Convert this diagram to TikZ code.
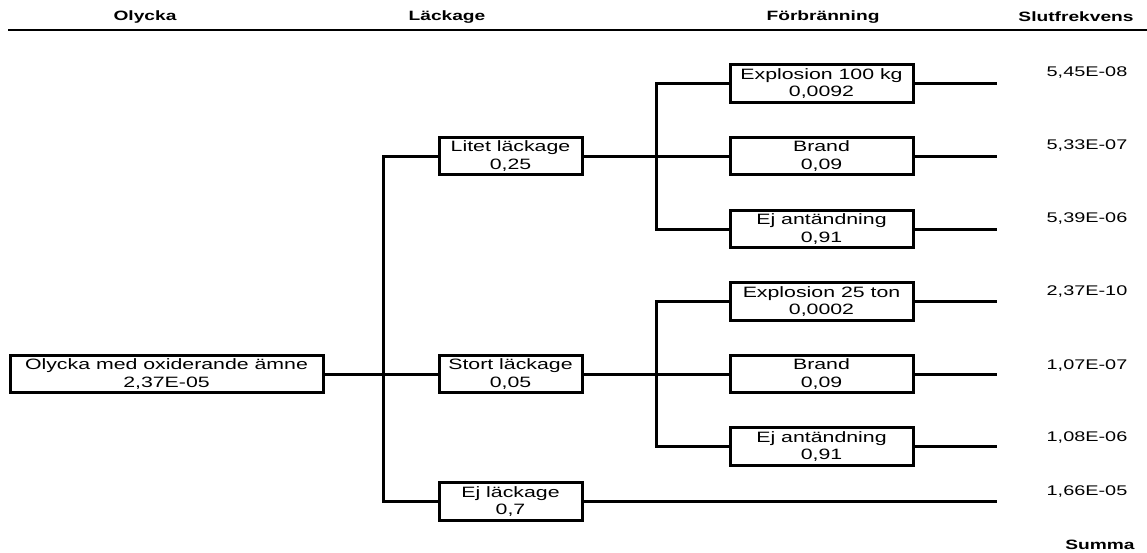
\documentclass[tikz,border=0pt]{standalone}
\usepackage{fontspec}
\setmainfont{Liberation Sans}[FakeStretch=1.42]
\begin{document}
\begin{tikzpicture}[x=1pt,y=-1pt,
  line width=3pt,
  every node/.style={inner sep=0pt, outer sep=0pt},
  evbox/.style={draw, line width=3pt, align=center, minimum height=37.5pt,
    font=\fontsize{15}{17.3}\selectfont},
  rootbox/.style={evbox, minimum width=313pt},
  leakbox/.style={evbox, minimum width=143pt},
  firebox/.style={evbox, minimum width=183pt},
  head/.style={font=\bfseries\fontsize{13.5}{16}\selectfont},
  freq/.style={font=\fontsize{14}{17}\selectfont},
  branch/.style={line width=3pt, line join=miter}]
\useasboundingbox (0,0) rectangle (1147,552);

% column headings and rule
\node[head] (hOlycka) at (145,17) {Olycka};
\node[head] (hLack) at (447,17) {Läckage};
\node[head] (hForb) at (823,17) {Förbränning};
\node[head] (hSlut) at (1076,17) {Slutfrekvens};
\coordinate (ruleL) at (8,30);
\coordinate (ruleR) at (1147,30);
\draw[line width=2.6pt] (ruleL) -- (ruleR);

% initiating event
\node[rootbox] (root) at (166.5,374) {Olycka med oxiderande ämne\\2,37E-05};

% leakage branches
\node[leakbox] (litet) at (510.5,156) {Litet läckage\\0,25};
\node[leakbox] (stort) at (510.5,374) {Stort läckage\\0,05};
\node[leakbox] (ejlack) at (510.5,501.5) {Ej läckage\\0,7};

% combustion branches
\node[firebox] (exA) at (821.5,83.5) {Explosion 100 kg\\0,0092};
\node[firebox] (brA) at (821.5,156) {Brand\\0,09};
\node[firebox] (ejA) at (821.5,229) {Ej antändning\\0,91};
\node[firebox] (exB) at (821.5,301.5) {Explosion 25 ton\\0,0002};
\node[firebox] (brB) at (821.5,374) {Brand\\0,09};
\node[firebox] (ejB) at (821.5,446.5) {Ej antändning\\0,91};

% trunk and bars
\coordinate (tTop) at (383,156);
\coordinate (tBot) at (383,501.5);
\coordinate (aTop) at (656,83.5);
\coordinate (aBot) at (656,229);
\coordinate (bTop) at (656,301.5);
\coordinate (bBot) at (656,446.5);
\coordinate (endx) at (997,0);

\draw[branch] (litet.west) -- (tTop) -- (tBot) -- (ejlack.west);
\draw[branch] (root.east) -- (stort.west);
\draw[branch] (exA.west) -- (aTop) -- (aBot) -- (ejA.west);
\draw[branch] (litet.east) -- (brA.west);
\draw[branch] (exB.west) -- (bTop) -- (bBot) -- (ejB.west);
\draw[branch] (stort.east) -- (brB.west);

% end branches
\coordinate (o1) at (exA.east -| endx);
\coordinate (o2) at (brA.east -| endx);
\coordinate (o3) at (ejA.east -| endx);
\coordinate (o4) at (exB.east -| endx);
\coordinate (o5) at (brB.east -| endx);
\coordinate (o6) at (ejB.east -| endx);
\coordinate (o7) at (ejlack.east -| endx);
\draw[branch] (exA.east) -- (o1);
\draw[branch] (brA.east) -- (o2);
\draw[branch] (ejA.east) -- (o3);
\draw[branch] (exB.east) -- (o4);
\draw[branch] (brB.east) -- (o5);
\draw[branch] (ejB.east) -- (o6);
\draw[branch] (ejlack.east) -- (o7);

% end frequencies
\node[freq] (f1) at (1087,73) {5,45E-08};
\node[freq] (f2) at (1087,146) {5,33E-07};
\node[freq] (f3) at (1087,219) {5,39E-06};
\node[freq] (f4) at (1087,292) {2,37E-10};
\node[freq] (f5) at (1087,365) {1,07E-07};
\node[freq] (f6) at (1087,437) {1,08E-06};
\node[freq] (f7) at (1087,491) {1,66E-05};
\node[head] (summa) at (1100,545) {Summa};
\end{tikzpicture}
\end{document}
